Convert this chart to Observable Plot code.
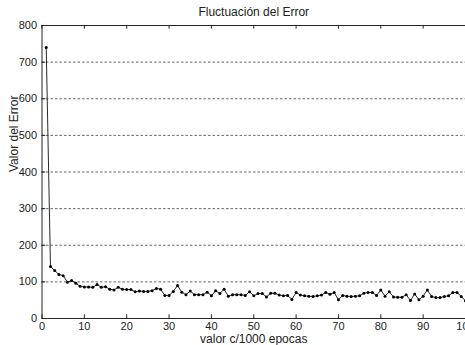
<!DOCTYPE html>
<html>
<head>
<meta charset="utf-8">
<script src="https://cdn.jsdelivr.net/npm/d3@7"></script>
<script src="https://cdn.jsdelivr.net/npm/@observablehq/plot@0.6"></script>
<style>
  html, body { margin: 0; padding: 0; background: #fff; }
  svg { display: block; }
</style>
</head>
<body>
<div id="chart"></div>
<script>
const title = "Fluctuación del Error";
const xLabel = "valor c/1000 epocas";
const yLabel = "Valor del Error";

const epochs = d3.range(1, 101);
const errors = [
  740, 142, 131, 120, 117, 99, 104, 96, 88, 86,
  86, 85, 93, 85, 87, 80, 78, 85, 80, 79,
  79, 73, 75, 74, 74, 76, 82, 80, 63, 63,
  74, 90, 72, 65, 75, 65, 65, 65, 72, 62,
  76, 68, 80, 61, 65, 65, 65, 63, 73, 62,
  68, 68, 59, 69, 69, 64, 62, 63, 52, 71,
  64, 62, 61, 60, 62, 64, 71, 66, 71, 51,
  63, 61, 60, 61, 62, 69, 71, 71, 63, 78,
  61, 73, 59, 58, 58, 65, 49, 67, 51, 61,
  78, 60, 57, 57, 60, 62, 71, 71, 60, 48
];
const xTicks = [0, 10, 20, 30, 40, 50, 60, 70, 80, 90, 100];
const yTicks = [0, 100, 200, 300, 400, 500, 600, 700, 800];
const gridLines = [100, 200, 300, 400, 500, 600, 700];

const data = epochs.map((e, i) => ({x: e, y: errors[i]}));

const chart = Plot.plot({
  width: 465,
  height: 345,
  marginLeft: 41.5,
  marginRight: 0,
  marginTop: 25,
  marginBottom: 27,
  style: {fontFamily: "Liberation Sans, Arial, sans-serif", fontSize: "11px", color: "#222", background: "#fff"},
  x: {domain: [0, 100]},
  y: {domain: [0, 800]},
  marks: [
    Plot.ruleY(gridLines, {y: d => d, stroke: "#555", strokeWidth: 0.9, strokeDasharray: "2.5,2"}),
    Plot.axisX(xTicks, {anchor: "bottom", tickSize: 0, tickPadding: 4, label: null, fill: "#222"}),
    Plot.axisY(yTicks, {anchor: "left", tickSize: 0, tickPadding: 5, label: null, fill: "#222"}),
    // axis box lines
    Plot.ruleY([0, 800], {y: d => d, stroke: "#222", strokeWidth: 1}),
    Plot.ruleX([0], {x: d => d, stroke: "#222", strokeWidth: 1}),
    // inward tick marks
    Plot.ruleX(xTicks, {x: d => d, y1: 0, y2: 10, stroke: "#222", strokeWidth: 1}),
    Plot.ruleX(xTicks, {x: d => d, y1: 790, y2: 800, stroke: "#222", strokeWidth: 1}),
    Plot.ruleY(yTicks, {y: d => d, x1: 0, x2: 0.9, stroke: "#222", strokeWidth: 1}),
    // data
    Plot.line(data, {x: "x", y: "y", stroke: "#111", strokeWidth: 0.9}),
    Plot.dot(data, {x: "x", y: "y", r: 1.5, fill: "#000", stroke: null}),
    // texts
    Plot.text([title], {frameAnchor: "top", lineAnchor: "middle", dy: -13, fontSize: 12, fill: "#222", text: d => d}),
    Plot.text([xLabel], {frameAnchor: "bottom", lineAnchor: "middle", dy: 21, fontSize: 12, fill: "#222", text: d => d}),
    Plot.text([yLabel], {frameAnchor: "left", lineAnchor: "middle", dx: -28, rotate: -90, fontSize: 12, fill: "#222", text: d => d})
  ]
});
document.getElementById("chart").appendChild(chart);
</script>
</body>
</html>
